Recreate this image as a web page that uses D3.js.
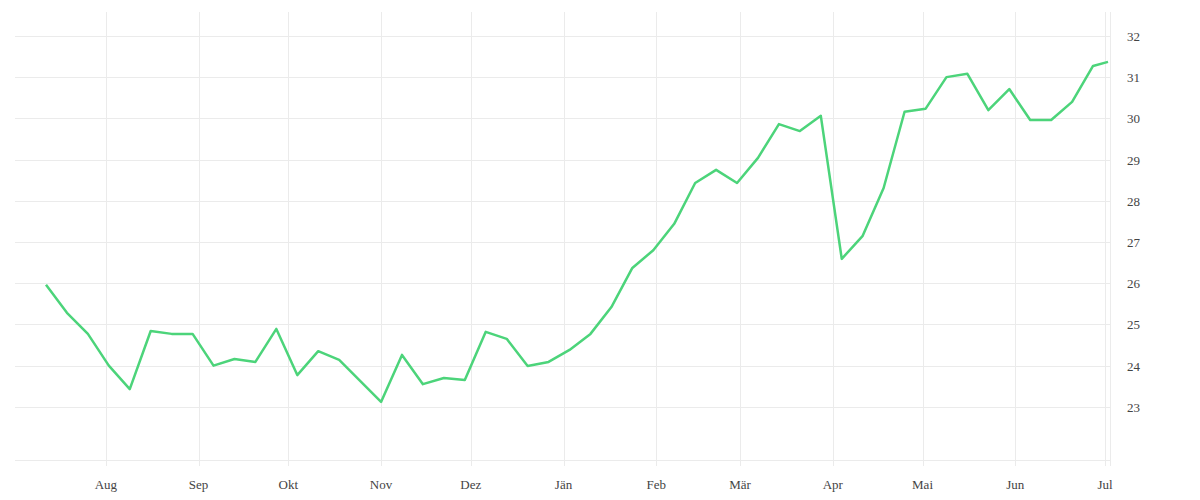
<!DOCTYPE html>
<html>
<head>
<meta charset="utf-8">
<script src="https://cdn.jsdelivr.net/npm/d3@7"></script>
<style>
  body { margin: 0; background: #fff; }
  text { font-family: "Liberation Serif", "DejaVu Serif", serif; font-size: 13px; fill: #444; }
</style>
</head>
<body>
<div id="chart"></div>
<script>
const dates = [
  "2022-07-12","2022-07-19","2022-07-26","2022-08-02","2022-08-09","2022-08-16","2022-08-23","2022-08-30",
  "2022-09-06","2022-09-13","2022-09-20","2022-09-27","2022-10-04","2022-10-11","2022-10-18","2022-10-25",
  "2022-11-01","2022-11-08","2022-11-15","2022-11-22","2022-11-29","2022-12-06","2022-12-13","2022-12-20",
  "2022-12-27","2023-01-03","2023-01-10","2023-01-17","2023-01-24","2023-01-31","2023-02-07","2023-02-14",
  "2023-02-21","2023-02-28","2023-03-07","2023-03-14","2023-03-21","2023-03-28","2023-04-04","2023-04-11",
  "2023-04-18","2023-04-25","2023-05-02","2023-05-09","2023-05-16","2023-05-23","2023-05-30","2023-06-06",
  "2023-06-13","2023-06-20","2023-06-27","2023-07-02"
];
const values = [
  25.96, 25.28, 24.77, 24.0, 23.43, 24.84, 24.77, 24.77,
  24.0, 24.16, 24.09, 24.89, 23.77, 24.35, 24.14, 23.63,
  23.12, 24.26, 23.55, 23.70, 23.65, 24.82, 24.65, 23.99,
  24.09, 24.38, 24.77, 25.42, 26.37, 26.80, 27.44, 28.43,
  28.75, 28.43, 29.04, 29.86, 29.69, 30.06, 26.59, 27.15,
  28.31, 30.16, 30.23, 31.0, 31.08, 30.2, 30.71, 29.96,
  29.96, 30.4, 31.27, 31.37
];
const monthTicks = ["2022-08-01","2022-09-01","2022-10-01","2022-11-01","2022-12-01","2023-01-01",
  "2023-02-01","2023-03-01","2023-04-01","2023-05-01","2023-06-01","2023-07-01"];
const monthLabels = ["Aug","Sep","Okt","Nov","Dez","Jän","Feb","Mär","Apr","Mai","Jun","Jul"];
const yTicks = [23, 24, 25, 26, 27, 28, 29, 30, 31, 32];

const W = 1200, H = 500;
const margin = {left: 15, right: 1110, top: 12, bottom: 460};
const parse = d3.timeParse("%Y-%m-%d");
const data = dates.map((d, i) => ({date: parse(d), value: values[i]}));

const x = d3.scaleTime()
  .domain([parse("2022-07-12"), parse("2023-07-02")])
  .range([46, 1108]);
const y = d3.scaleLinear()
  .domain([21.71, 32.58])
  .range([margin.bottom, margin.top]);

const svg = d3.select("#chart").append("svg")
  .attr("width", W).attr("height", H);

// gridlines
const grid = svg.append("g").attr("stroke", "#ebebeb").attr("stroke-width", 1);
grid.selectAll(".h").data(yTicks).enter().append("line")
  .attr("x1", margin.left).attr("x2", margin.right)
  .attr("y1", d => Math.round(y(d)) + 0.5).attr("y2", d => Math.round(y(d)) + 0.5);
grid.append("line").attr("x1", margin.left).attr("x2", margin.right)
  .attr("y1", margin.bottom + 0.5).attr("y2", margin.bottom + 0.5);
grid.selectAll(".v").data(monthTicks).enter().append("line")
  .attr("x1", d => Math.round(x(parse(d))) + 0.5).attr("x2", d => Math.round(x(parse(d))) + 0.5)
  .attr("y1", margin.top).attr("y2", margin.bottom + 6);
grid.append("line").attr("x1", margin.right + 0.5).attr("x2", margin.right + 0.5)
  .attr("y1", margin.top).attr("y2", margin.bottom + 6);

// x labels
svg.selectAll(".xl").data(monthTicks).enter().append("text")
  .attr("x", d => x(parse(d)))
  .attr("y", 489)
  .attr("text-anchor", "middle")
  .text((d, i) => monthLabels[i]);

// y labels
svg.selectAll(".yl").data(yTicks).enter().append("text")
  .attr("x", 1127)
  .attr("y", d => y(d) + 5)
  .text(d => d);

// line
const line = d3.line().x(d => x(d.date)).y(d => y(d.value));
svg.append("path").datum(data)
  .attr("fill", "none")
  .attr("stroke", "#4cd47a")
  .attr("stroke-width", 2.5)
  .attr("stroke-linejoin", "round")
  .attr("d", line);
</script>
</body>
</html>
